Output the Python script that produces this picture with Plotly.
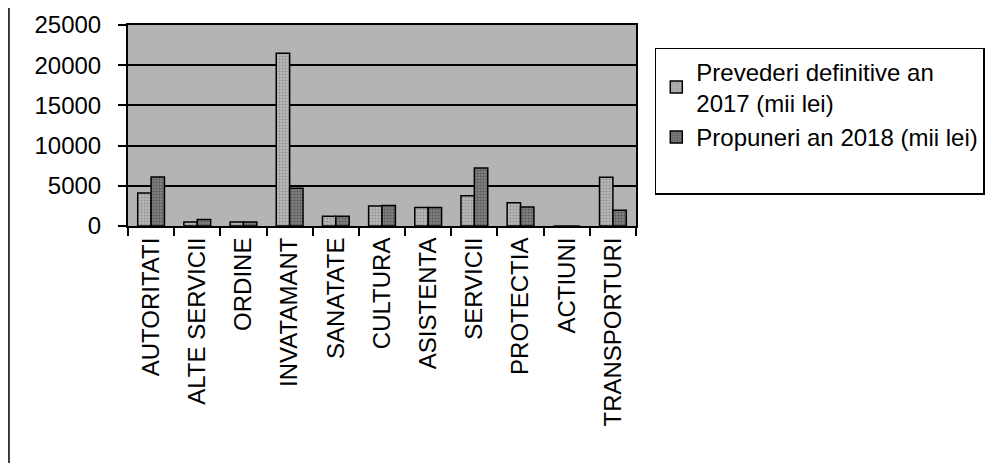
import plotly.graph_objects as go

categories = ["AUTORITATI", "ALTE SERVICII", "ORDINE", "INVATAMANT", "SANATATE",
              "CULTURA", "ASISTENTA", "SERVICII", "PROTECTIA", "ACTIUNI", "TRANSPORTURI"]
prevederi_2017 = [4100, 500, 500, 21500, 1200, 2500, 2300, 3750, 2900, 0, 6050]
propuneri_2018 = [6100, 800, 500, 4700, 1200, 2550, 2300, 7200, 2350, 0, 1950]
y_ticks = [0, 5000, 10000, 15000, 20000, 25000]

name_prev = "Prevederi definitive an<br>2017 (mii lei)"
name_prop = "Propuneri an 2018 (mii lei)"

fig = go.Figure()
fig.add_trace(go.Bar(
    x=categories, y=prevederi_2017, name=name_prev,
    marker=dict(color="#a4a4a4", line=dict(color="black", width=1.5),
                pattern=dict(shape=".", fgcolor="#6a6a6a", bgcolor="#b8b8b8", size=3, solidity=0.35)),
))
fig.add_trace(go.Bar(
    x=categories, y=propuneri_2018, name=name_prop,
    marker=dict(color="#5e5e5e", line=dict(color="black", width=1.5),
                pattern=dict(shape=".", fgcolor="#303030", bgcolor="#8a8a8a", size=3, solidity=0.5)),
))
# blank legend row: the reference legend box has empty space under its entries
fig.add_trace(go.Scatter(
    x=[categories[0]], y=[None], name="&nbsp;", mode="markers", hoverinfo="skip",
    marker=dict(color="rgba(0,0,0,0)", size=1, line=dict(width=0)),
))

font_family = "Liberation Sans, Arial, sans-serif"

fig.update_layout(
    width=995, height=463,
    margin=dict(l=120, r=367, t=17, b=245, autoexpand=False),
    paper_bgcolor="white",
    plot_bgcolor="#b4b4b4",
    barmode="group",
    bargap=0.42,
    bargroupgap=0,
    font=dict(family=font_family, size=20, color="black"),
    showlegend=True,
    legend=dict(
        x=1.037, y=0.886, xanchor="left", yanchor="top",
        bgcolor="white", bordercolor="black", borderwidth=1.5,
        font=dict(size=24, family=font_family),
        traceorder="normal", tracegroupgap=2, itemwidth=30,
    ),
    xaxis=dict(
        type="category", tickangle=-90, tickson="boundaries",
        range=[-0.5, len(categories) - 0.5],
        ticks="outside", ticklen=8, tickwidth=1.5, tickcolor="black",
        showline=True, linecolor="black", linewidth=2, mirror=True,
        tickfont=dict(size=24, family=font_family),
        showgrid=False,
    ),
    yaxis=dict(
        range=[0, 25000], tickvals=y_ticks, ticktext=[str(v) for v in y_ticks],
        ticks="outside", ticklen=8, tickwidth=1.5, tickcolor="black",
        ticklabelstandoff=12,
        showline=True, linecolor="black", linewidth=2, mirror=True,
        showgrid=True, gridcolor="black", gridwidth=2,
        zeroline=False,
        tickfont=dict(size=24, family=font_family),
    ),
    shapes=[dict(type="line", xref="paper", yref="paper",
                 x0=-0.2343, x1=-0.2343, y0=1.12, y1=-1.25,
                 line=dict(color="black", width=1.5))],
)

fig.write_html("out.html")
